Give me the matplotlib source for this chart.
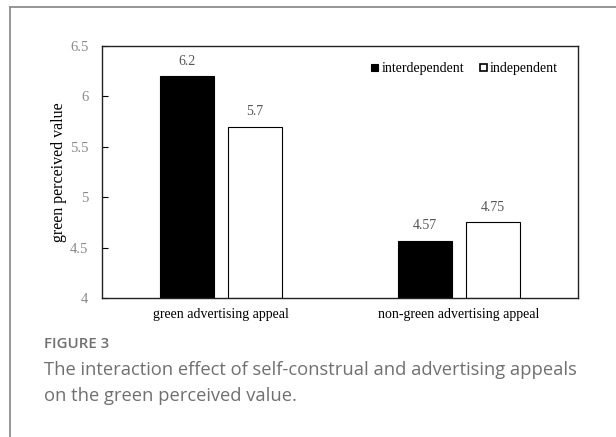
import numpy as np
import matplotlib
matplotlib.use('Agg')
import matplotlib.pyplot as plt
from matplotlib.patches import Patch
from matplotlib.lines import Line2D

categories = ['green advertising appeal', 'non-green advertising appeal']
interdependent = [6.2, 4.57]
independent = [5.7, 4.75]
interdep_labels = ['6.2', '4.57']
indep_labels = ['5.7', '4.75']
y_ticks = [4, 4.5, 5, 5.5, 6, 6.5]
y_tick_labels = ['4', '4.5', '5', '5.5', '6', '6.5']

W, H = 616, 437
fig = plt.figure(figsize=(W / 100, H / 100), dpi=100)

# outer frame (left and top only)
fig.add_artist(Line2D([9.5 / W, 9.5 / W], [0, 1 - 6.5 / H], color='#8f8f8f', lw=1.3))
fig.add_artist(Line2D([9.5 / W, 1], [1 - 6.5 / H, 1 - 6.5 / H], color='#8f8f8f', lw=1.3))

ax = fig.add_axes([101.5 / W, (H - 298) / H, 476.5 / W, 252 / H])
serif = 'Liberation Serif'

x = np.arange(len(categories))
w = 0.227
off = 0.143
ax.bar(x - off, np.array(interdependent) - 4, w, bottom=4, color='black', edgecolor='black', lw=0.8)
ax.bar(x + off, np.array(independent) - 4, w, bottom=4, color='white', edgecolor='black', lw=0.8)

for xi, v, s in zip(x - off, interdependent, interdep_labels):
    ax.text(xi, v + 0.085, s, ha='center', va='bottom', fontsize=10, family=serif, color='#555555')
for xi, v, s in zip(x + off, independent, indep_labels):
    ax.text(xi, v + 0.085, s, ha='center', va='bottom', fontsize=10, family=serif, color='#555555')

ax.set_xlim(-0.5, 1.5)
ax.set_ylim(4, 6.5)
ax.set_yticks(y_ticks)
ax.set_yticklabels(y_tick_labels, family=serif, fontsize=10.5, color='#8a8a8a')
ax.tick_params(axis='y', direction='in', length=4, width=0.8, pad=9.5, color='black')
ax.set_xticks(x)
ax.set_xticklabels(categories, family=serif, fontsize=10, color='black')
ax.tick_params(axis='x', length=0, pad=7)
for sp in ax.spines.values():
    sp.set_linewidth(1.0)
    sp.set_color('#222222')
ax.set_ylabel('green perceived value', family=serif, fontsize=11.5)
ax.yaxis.set_label_coords((67 - 101.5) / 476.5, 0.5)

handles = [Patch(facecolor='black', edgecolor='black', lw=0.8, label='interdependent'),
           Patch(facecolor='white', edgecolor='black', lw=1.2, label='independent')]
ax.legend(handles=handles, loc='center left', bbox_to_anchor=(0.54, 0.909), ncol=2,
          frameon=False, handlelength=0.5, handleheight=0.5, handletextpad=0.25,
          columnspacing=1.1, prop={'family': serif, 'size': 10})

fig.text(44 / W, 1 - 344 / H, 'FIGURE 3', fontsize=10.8, color='#707070', family='Open Sans',
         weight='semibold', va='center', ha='left')
fig.text(44 / W, 1 - 370 / H, 'The interaction effect of self-construal and advertising appeals',
         fontsize=13.2, color='#707070', family='Open Sans', va='center', ha='left')
fig.text(44 / W, 1 - 396 / H, 'on the green perceived value.',
         fontsize=13.2, color='#707070', family='Open Sans', va='center', ha='left')

fig.savefig('out.png', dpi=100)
